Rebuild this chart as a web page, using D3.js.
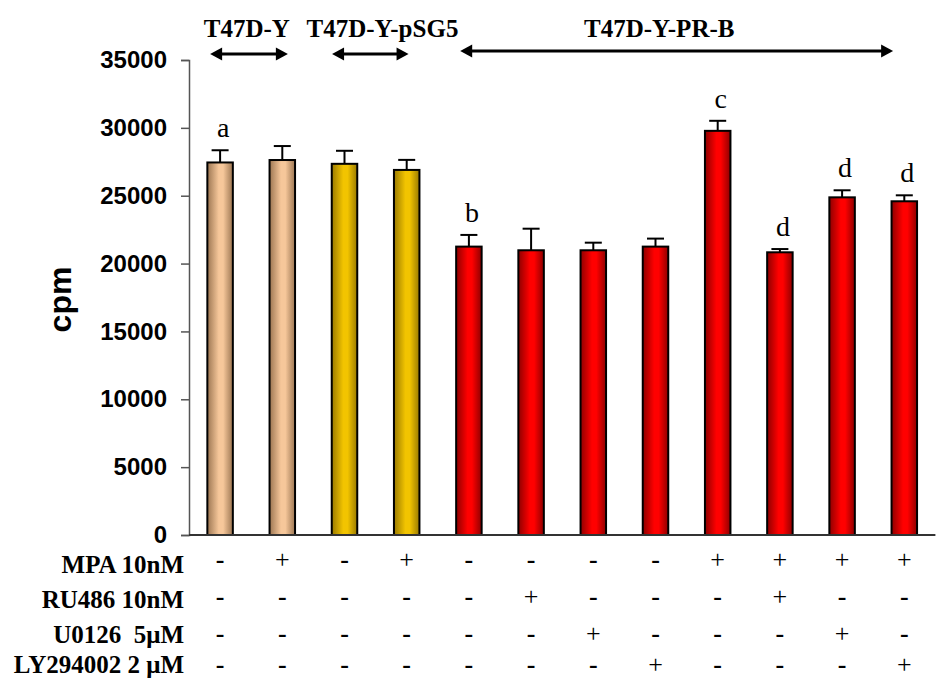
<!DOCTYPE html>
<html>
<head>
<meta charset="utf-8">
<script src="https://cdn.jsdelivr.net/npm/d3@7"></script>
<style>
  html, body { margin: 0; padding: 0; background: #fff; }
  svg { display: block; }
</style>
</head>
<body>
<svg id="chart" width="947" height="679"></svg>
<script>
// Proliferation (cpm) of T47D-Y derived lines under hormone / inhibitor treatments
const cellLines = ["T47D-Y", "T47D-Y", "T47D-Y-pSG5", "T47D-Y-pSG5",
  "T47D-Y-PR-B", "T47D-Y-PR-B", "T47D-Y-PR-B", "T47D-Y-PR-B",
  "T47D-Y-PR-B", "T47D-Y-PR-B", "T47D-Y-PR-B", "T47D-Y-PR-B"];
const cpmMean = [27450, 27630, 27350, 26900, 21250, 20980, 20980, 21250, 29780, 20830, 24880, 24590];
const cpmErr  = [900, 1030, 960, 740, 860, 1590, 560, 590, 740, 240, 520, 440];
const sigLetters = ["a", "", "", "", "b", "", "", "", "c", "d", "d", "d"];

const treatmentNames = ["MPA 10nM", "RU486 10nM", "U0126  5\u03bcM", "LY294002 2 \u03bcM"];
const mpa   = [0, 1, 0, 1, 0, 0, 0, 0, 1, 1, 1, 1];
const ru486 = [0, 0, 0, 0, 0, 1, 0, 0, 0, 1, 0, 0];
const u0126 = [0, 0, 0, 0, 0, 0, 1, 0, 0, 0, 1, 0];
const ly    = [0, 0, 0, 0, 0, 0, 0, 1, 0, 0, 0, 1];

const yTicks = [0, 5000, 10000, 15000, 20000, 25000, 30000, 35000];

// header groups: name, arrow span in bar-index units, label centre in bar-index units
const groupNames = ["T47D-Y", "T47D-Y-pSG5", "T47D-Y-PR-B"];
const groupSpan  = [[-0.16, 1.09], [1.8, 3.03], [3.86, 10.82]];
const groupLabelAt = [0.43, 2.61, 7.06];

const palette = {
  "T47D-Y":      { dark: "#9c7652", light: "#f6c79a" },
  "T47D-Y-pSG5": { dark: "#9a7a00", light: "#f2c400" },
  "T47D-Y-PR-B": { dark: "#8e0000", light: "#ff0000" }
};

const svg = d3.select("#chart");
const mLeft = 189, mRight = 935.4, mTop = 60, mBottom = 535;

const idx = d3.range(cpmMean.length);
const x = d3.scaleBand().domain(idx).range([mLeft, mRight]).paddingInner(0.59).paddingOuter(0.295);
const y = d3.scaleLinear().domain([0, 35000]).range([mBottom, mTop]);
const step = x.step();
const cx = i => x(i) + x.bandwidth() / 2;
const cxAt = v => cx(0) + v * step;

// gradients for the cylindrical look of the bars
const defs = svg.append("defs");
Object.entries(palette).forEach(([name, c], k) => {
  const g = defs.append("linearGradient").attr("id", "grad" + k)
    .attr("x1", "0%").attr("x2", "100%").attr("y1", "0%").attr("y2", "0%");
  g.append("stop").attr("offset", "0%").attr("stop-color", c.dark);
  g.append("stop").attr("offset", "45%").attr("stop-color", c.light);
  g.append("stop").attr("offset", "62%").attr("stop-color", c.light);
  g.append("stop").attr("offset", "100%").attr("stop-color", c.dark);
});
const gradId = name => "url(#grad" + Object.keys(palette).indexOf(name) + ")";

const sans = "'Liberation Sans', Arial, sans-serif";
const serif = "'Liberation Serif', 'Times New Roman', serif";

// y axis
const yAxis = d3.axisLeft(y).tickValues(yTicks).tickSize(8).tickPadding(14).tickFormat(d3.format("d"));
const gy = svg.append("g").attr("transform", `translate(${mLeft},0)`).call(yAxis);
gy.select(".domain").attr("stroke", "#555").attr("stroke-width", 1.5);
gy.selectAll(".tick line").attr("stroke", "#555").attr("stroke-width", 1.5);
gy.selectAll(".tick text")
  .attr("font-family", sans)
  .attr("font-weight", "bold").attr("font-size", 24).attr("fill", "#000");

svg.append("text")
  .attr("transform", `translate(71,${(mTop + mBottom) / 2 + 2}) rotate(-90)`)
  .attr("text-anchor", "middle")
  .attr("font-family", sans)
  .attr("font-weight", "bold").attr("font-size", 32)
  .text("cpm");

// bars
svg.append("g").selectAll("rect").data(idx).join("rect")
  .attr("x", i => x(i)).attr("width", x.bandwidth())
  .attr("y", i => y(cpmMean[i])).attr("height", i => y(0) - y(cpmMean[i]))
  .attr("fill", i => gradId(cellLines[i]))
  .attr("stroke", "#000").attr("stroke-width", 2);

// error bars (upper whisker only)
const eg = svg.append("g").attr("stroke", "#000").attr("stroke-width", 2);
eg.selectAll("line.v").data(idx).join("line").attr("class", "v")
  .attr("x1", cx).attr("x2", cx)
  .attr("y1", i => y(cpmMean[i])).attr("y2", i => y(cpmMean[i] + cpmErr[i]));
eg.selectAll("line.h").data(idx).join("line").attr("class", "h")
  .attr("x1", i => cx(i) - 8.5).attr("x2", i => cx(i) + 8.5)
  .attr("y1", i => y(cpmMean[i] + cpmErr[i])).attr("y2", i => y(cpmMean[i] + cpmErr[i]));

// significance letters
svg.append("g").selectAll("text").data(idx.filter(i => sigLetters[i])).join("text")
  .attr("x", i => cx(i) + 3).attr("y", i => y(cpmMean[i] + cpmErr[i]) - 13)
  .attr("text-anchor", "middle")
  .attr("font-family", serif)
  .attr("font-size", 28)
  .text(i => sigLetters[i]);

// baseline
svg.append("line").attr("x1", mLeft).attr("x2", mRight).attr("y1", mBottom).attr("y2", mBottom)
  .attr("stroke", "#333").attr("stroke-width", 2);

// header: group labels and double arrows
groupNames.forEach((name, k) => {
  svg.append("text").attr("x", cxAt(groupLabelAt[k])).attr("y", 37)
    .attr("text-anchor", "middle").attr("font-family", serif)
    .attr("font-weight", "bold").attr("font-size", 25).text(name);
  const x1 = cxAt(groupSpan[k][0]), x2 = cxAt(groupSpan[k][1]);
  const ay = k === 2 ? 51 : 54, head = 12, hh = 6.5;
  svg.append("line").attr("x1", x1 + head - 1).attr("x2", x2 - head + 1)
    .attr("y1", ay).attr("y2", ay).attr("stroke", "#000").attr("stroke-width", 3);
  svg.append("path").attr("d", `M${x1},${ay} L${x1 + head},${ay - hh} L${x1 + head},${ay + hh} Z`);
  svg.append("path").attr("d", `M${x2},${ay} L${x2 - head},${ay - hh} L${x2 - head},${ay + hh} Z`);
});

// treatment table under the axis
const rows = [mpa, ru486, u0126, ly];
const labelBase = [573, 608, 643, 673];
const rowMid = [559, 596, 633, 664];
rows.forEach((row, r) => {
  svg.append("text").attr("x", 184).attr("y", labelBase[r])
    .attr("text-anchor", "end").attr("font-family", serif)
    .attr("font-weight", "bold").attr("font-size", 25)
    .style("white-space", "pre")
    .text(treatmentNames[r]);
  svg.append("g").selectAll("text").data(idx).join("text")
    .attr("x", cx).attr("y", rowMid[r])
    .attr("dominant-baseline", "central")
    .attr("text-anchor", "middle").attr("font-family", serif)
    .attr("font-weight", i => row[i] ? "normal" : "bold")
    .attr("font-size", 26)
    .text(i => row[i] ? "+" : "-");
});
</script>
</body>
</html>
